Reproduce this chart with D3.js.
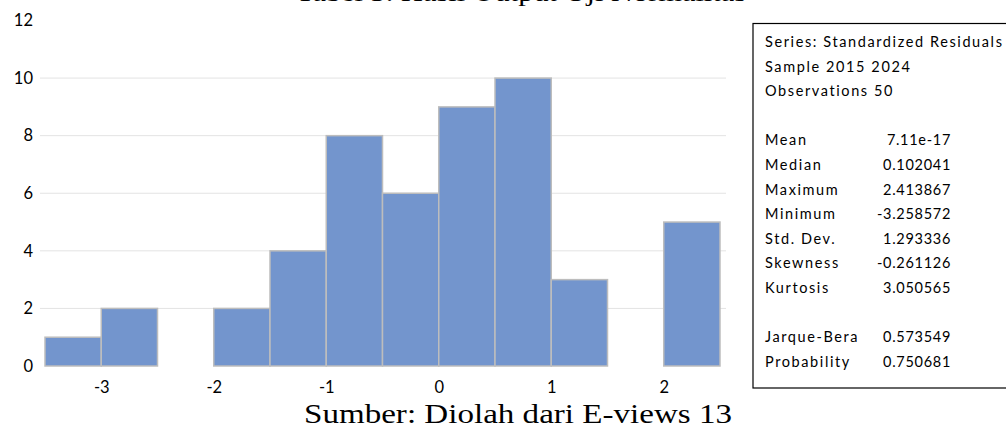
<!DOCTYPE html>
<html>
<head>
  <meta charset="utf-8">
  <script src="https://cdn.jsdelivr.net/npm/d3@7/dist/d3.min.js"></script>
  <style>
    body { margin: 0; background: #fff; }
  </style>
</head>
<body>
<div id="chart"></div>
<script>
  // histogram bins (width 0.5) and counts
  var binStart = [-3.5, -3.0, -2.5, -2.0, -1.5, -1.0, -0.5, 0.0, 0.5, 1.0, 1.5, 2.0];
  var binCount = [1, 2, 0, 2, 4, 8, 6, 9, 10, 3, 0, 5];
  var binWidth = 0.5;
  var xTicks = [-3, -2, -1, 0, 1, 2];
  var yTicks = [0, 2, 4, 6, 8, 10, 12];

  // eviews stats box
  var headLines = ["Series: Standardized Residuals", "Sample 2015 2024", "Observations 50"];
  var statNames = ["Mean", "Median", "Maximum", "Minimum", "Std. Dev.", "Skewness", "Kurtosis"];
  var statValues = ["7.11e-17", "0.102041", "2.413867", "-3.258572", "1.293336", "-0.261126", "3.050565"];
  var testNames = ["Jarque-Bera", "Probability"];
  var testValues = ["0.573549", "0.750681"];

  var width = 1006, height = 429;

  var svg = d3.select("#chart").append("svg")
    .attr("width", width).attr("height", height);

  var x = d3.scaleLinear().domain([-3.5, 2.5]).range([45, 720]);
  var y = d3.scaleLinear().domain([0, 12]).range([366, 20.5]);

  // caption above, mostly cut off by the page edge (as in the source)
  svg.append("text")
    .attr("x", 296).attr("y", 1)
    .attr("font-family", "Liberation Serif, Times New Roman, serif")
    .attr("font-size", 26)
    .attr("textLength", 450).attr("lengthAdjust", "spacingAndGlyphs")
    .text("Tabel 3. Hasil Output Uji Normalitas");

  // gridlines
  svg.append("g").selectAll("line")
    .data(yTicks.filter(function(d) { return d > 0 && d < 12; }))
    .enter().append("line")
    .attr("x1", 40).attr("x2", 726)
    .attr("y1", function(d) { return y(d); })
    .attr("y2", function(d) { return y(d); })
    .attr("stroke", "#e3e3e3").attr("stroke-width", 1);

  // bars
  svg.append("g").selectAll("rect")
    .data(binStart.map(function(s, i) { return {s: s, n: binCount[i]}; }).filter(function(d) { return d.n > 0; }))
    .enter().append("rect")
    .attr("x", function(d) { return x(d.s); })
    .attr("width", function(d) { return x(d.s + binWidth) - x(d.s); })
    .attr("y", function(d) { return y(d.n); })
    .attr("height", function(d) { return y(0) - y(d.n); })
    .attr("fill", "#7395cd")
    .attr("stroke", "#bdbdbd").attr("stroke-width", 1.5);

  var fmt = function(d) { return String(d); };

  // y axis labels
  var yAxis = d3.axisLeft(y).tickValues(yTicks).tickSize(0).tickPadding(0).tickFormat(fmt);
  var gy = svg.append("g").attr("transform", "translate(33,0)").call(yAxis);
  gy.select(".domain").remove();
  gy.selectAll("text")
    .attr("font-family", "Lato, Carlito, Calibri, sans-serif")
    .attr("font-size", 16.5).attr("fill", "#000");

  // x axis labels
  var xAxis = d3.axisBottom(x).tickValues(xTicks).tickSize(0).tickPadding(0).tickFormat(fmt);
  var gx = svg.append("g").attr("transform", "translate(0,381)").call(xAxis);
  gx.select(".domain").remove();
  gx.selectAll("text")
    .attr("font-family", "Lato, Carlito, Calibri, sans-serif")
    .attr("font-size", 16.5).attr("fill", "#000");

  // stats box
  svg.append("rect")
    .attr("x", 753).attr("y", 23.5).attr("width", 300).attr("height", 364.5)
    .attr("fill", "none").attr("stroke", "#000").attr("stroke-width", 1.2);

  var box = svg.append("g")
    .attr("font-family", "Lato, Carlito, Calibri, sans-serif")
    .attr("font-size", 14.5).attr("fill", "#000");

  var lineY = function(i) { return 47 + i * 24.6; };

  function label(t, i) {
    box.append("text").attr("x", 765).attr("y", lineY(i))
      .attr("letter-spacing", 1.6).text(t);
  }
  function value(t, i) {
    box.append("text").attr("x", 951).attr("y", lineY(i))
      .attr("text-anchor", "end").attr("letter-spacing", 0.7).text(t);
  }

  headLines.forEach(function(t, i) { label(t, i); });
  statNames.forEach(function(t, i) { label(t, i + 4); value(statValues[i], i + 4); });
  testNames.forEach(function(t, i) { label(t, i + 12); value(testValues[i], i + 12); });

  // source line
  svg.append("text")
    .attr("x", 304).attr("y", 423)
    .attr("font-family", "Liberation Serif, Times New Roman, serif")
    .attr("font-size", 28)
    .attr("textLength", 428).attr("lengthAdjust", "spacingAndGlyphs")
    .text("Sumber: Diolah dari E-views 13");
</script>
</body>
</html>
